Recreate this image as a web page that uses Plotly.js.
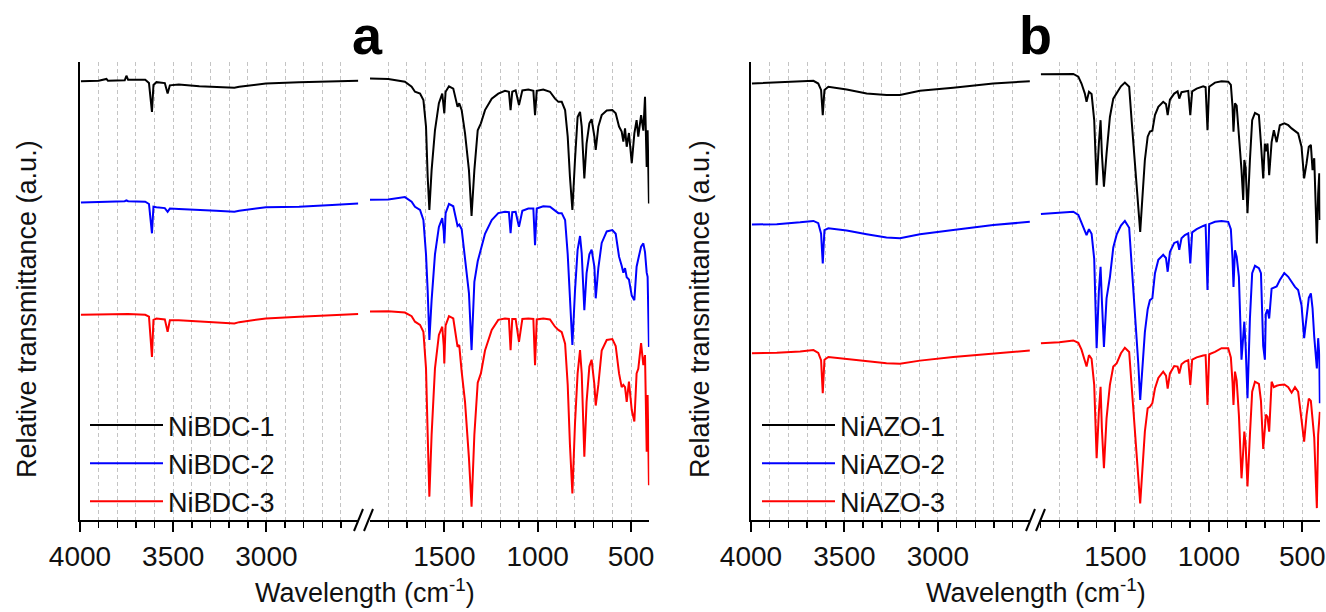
<!DOCTYPE html>
<html><head><meta charset="utf-8">
<script src="https://cdn.plot.ly/plotly-3.0.1.min.js"></script>
<style>html,body{margin:0;padding:0;background:#fff}#chart{width:1326px;height:612px}</style>
</head><body><div id="chart"></div>
<script>
// ---------- DATA (relative transmittance, a.u.; curves offset as in the figure) ----------
// Panel a (NiBDC), high-wavenumber segment 4000-2500 cm-1
const aHighWn = [3995,3900,3858,3850,3760,3751,3742,3650,3630,3614,3606,3590,3545,3530,3518,3470,3360,3270,3172,3146,3003,2825,2648,2508];
const aHighBDC1 = [95.8,95.9,96.3,95.9,96.0,97.0,96.1,96.1,95.4,89.1,95.0,95.6,95.4,93.1,94.9,95.1,94.7,94.6,94.4,94.6,95.3,95.6,95.8,95.9];
const aHighBDC2 = [69.3,69.4,69.5,69.4,69.6,69.8,69.6,69.5,69.0,62.6,68.4,68.3,68.1,67.3,68.0,67.9,67.6,67.5,67.3,67.5,68.3,68.4,68.8,69.1];
const aHighBDC3 = [44.8,44.9,45.0,44.9,45.0,45.0,45.0,44.8,44.4,35.6,43.7,44.0,43.8,41.1,43.6,43.6,43.3,43.2,42.9,43.2,44.0,44.4,44.8,45.0];

// Panel a (NiBDC), fingerprint segment 1900-400 cm-1
const aLowWn = [1898,1800,1711,1675,1657,1630,1612,1598,1589,1580,1568,1550,1529,1511,1503,1500,1497,1493,1475,1452,1429,1420,1407,1389,1368,1354,1339,1321,1304,1282,1246,1211,1175,1154,1145,1136,1118,1100,1082,1050,1023,1014,1005,970,934,907,889,871,853,839,827,814,800,786,773,764,750,738,723,711,696,689,675,657,630,600,582,564,550,541,532,523,511,496,482,470,461,446,434,425,416,411,404];
const aLowBDC1 = [96.4,96.3,95.7,94.6,93.5,93.1,91.7,85.9,74.9,67.7,76.4,85.1,91.0,93.1,90.0,88.8,91.0,93.5,94.7,94.2,90.2,91.0,89.5,84.4,76.4,66.4,76.4,85.1,86.6,89.5,92.0,93.1,93.7,93.5,89.5,93.5,93.8,90.6,93.8,94.0,93.7,88.4,93.7,94.0,93.5,92.0,91.3,91.3,89.5,83.7,74.9,67.7,78.6,88.0,89.1,85.9,74.6,82.2,86.6,87.5,83.7,80.8,85.9,88.4,89.4,89.5,88.8,85.9,84.8,82.6,85.5,81.5,84.5,77.9,84.4,87.3,83.7,88.4,85.0,92.4,77.1,85.1,69.1];
const aLowBDC2 = [69.9,70.0,70.5,69.5,68.4,67.7,65.5,58.0,50.0,39.3,48.0,58.0,64.0,65.9,63.0,60.4,63.0,67.0,69.0,68.5,64.2,64.5,63.5,56.8,49.5,37.1,52.0,56.5,59.0,62.5,65.5,67.0,67.3,67.2,62.6,67.2,67.3,64.0,67.5,68.0,68.0,60.0,68.0,68.5,68.4,67.5,67.0,67.0,65.5,58.0,48.0,38.2,50.0,59.0,62.0,58.2,45.8,53.9,58.0,59.0,55.3,48.4,55.0,60.5,63.0,63.3,62.5,57.5,55.5,54.0,55.0,53.0,52.5,49.0,48.0,55.3,57.0,59.7,60.4,58.5,54.0,53.1,37.8];
const aLowBDC3 = [45.5,45.6,45.3,44.5,43.3,42.6,41.1,33.1,18.6,5.1,18.6,33.1,40.4,42.2,38.0,34.2,38.0,42.5,44.5,44.0,37.8,38.2,32.4,25.8,13.5,2.9,18.6,30.0,32.0,37.0,41.5,43.7,44.0,43.9,37.1,43.9,43.9,38.9,43.9,44.0,43.9,33.8,43.8,44.0,43.8,42.2,41.5,41.0,38.5,29.5,16.4,5.8,21.0,32.0,37.1,32.0,13.8,25.8,33.5,35.0,29.5,25.0,29.5,37.0,39.3,39.5,38.0,32.0,29.0,29.5,29.0,25.8,30.2,24.0,21.5,32.0,33.0,38.6,33.8,36.0,14.9,27.3,7.6];

// Panel b (NiAZO), high-wavenumber segment 4000-2500 cm-1
const bHighWn = [3995,3862,3737,3666,3640,3625,3616,3607,3586,3488,3381,3275,3203,3096,2918,2704,2508];
const bHighAZO1 = [95.3,95.5,95.8,95.9,95.3,93.9,88.4,93.9,94.6,94.0,93.1,92.8,92.8,93.7,94.4,95.3,95.8];
const bHighAZO2 = [64.5,64.6,65.0,65.3,64.8,62.5,56.0,63.3,63.7,63.2,62.4,61.7,61.5,62.4,63.3,64.4,65.1];
const bHighAZO3 = [36.4,36.5,36.8,37.1,36.5,34.9,27.7,35.0,35.6,35.2,34.7,34.2,34.1,34.8,35.6,36.4,37.0];

// Panel b (NiAZO), fingerprint segment 1900-400 cm-1
const bLowWn = [1898,1800,1725,1698,1681,1663,1654,1641,1627,1613,1600,1588,1579,1572,1561,1547,1529,1511,1493,1470,1449,1426,1413,1404,1390,1377,1367,1356,1342,1327,1315,1302,1288,1270,1244,1229,1220,1208,1185,1167,1158,1146,1128,1110,1099,1089,1065,1030,1017,1007,998,967,932,896,882,873,868,860,851,839,825,816,810,803,793,780,768,753,732,721,709,700,695,686,677,664,652,637,620,596,575,557,539,522,504,490,477,465,454,445,436,427,422,415,409,406];
const bLowAZO1 = [97.3,97.4,97.4,96.8,95.3,93.1,91.3,93.5,93.0,87.3,73.1,82.2,87.3,80.0,72.8,80.0,88.0,92.0,93.1,94.7,95.5,94.6,87.3,82.6,74.9,67.7,62.9,69.9,78.6,83.7,84.8,85.0,88.4,90.2,91.3,90.8,88.4,91.8,93.1,93.6,92.0,93.4,93.5,93.7,88.4,93.6,94.2,94.7,94.5,85.1,94.6,95.5,95.8,95.7,95.0,90.2,84.8,91.0,90.5,84.4,76.4,69.9,78.6,77.0,67.0,78.6,87.3,88.9,88.4,82.2,74.6,82.2,80.5,82.2,75.3,82.5,85.1,82.5,86.2,86.6,86.2,85.5,85.0,84.4,81.5,74.6,77.9,81.5,81.9,76.4,79.0,69.1,60.4,71.3,75.7,65.5];
const bLowAZO2 = [66.8,67.0,67.3,66.6,64.8,62.9,62.2,63.5,62.5,57.0,37.5,50.0,55.3,48.0,37.8,48.4,53.0,59.5,62.3,64.3,65.3,63.8,56.0,50.0,44.0,34.0,26.2,33.0,41.0,46.0,48.0,48.4,53.9,56.8,57.9,57.2,54.2,58.5,60.5,60.8,59.0,61.5,62.2,62.6,56.0,62.8,63.5,64.2,64.4,50.2,64.6,65.1,65.3,65.1,63.5,57.0,50.9,58.9,57.5,53.1,35.0,40.0,43.3,38.0,26.6,44.0,53.9,55.5,55.0,53.9,38.0,35.0,45.0,46.0,44.0,50.5,50.8,51.0,52.4,53.9,53.1,52.0,50.9,50.2,46.9,39.7,44.0,48.5,49.5,46.2,40.0,34.5,33.1,39.7,36.0,25.5];
const bLowAZO3 = [38.6,38.8,39.2,38.7,37.2,34.9,33.5,36.0,35.2,29.5,13.5,23.6,29.1,20.0,11.3,22.2,29.5,33.5,34.2,36.4,37.6,36.7,29.5,23.6,16.4,9.1,3.6,10.5,19.3,24.4,24.7,25.5,28.7,31.0,32.4,31.5,28.7,32.0,33.6,33.5,32.0,34.0,34.6,34.9,29.5,35.0,35.5,35.9,36.0,25.1,36.2,36.7,37.5,37.5,35.5,30.0,25.1,32.4,30.5,22.9,9.1,15.0,19.3,16.5,7.3,18.6,28.0,30.2,29.7,26.0,15.5,20.0,23.0,22.5,19.3,30.2,29.0,29.3,29.5,29.6,29.0,27.8,29.0,28.0,22.0,17.1,22.9,26.5,26.0,22.5,18.0,8.0,2.6,18.6,22.0,23.6];

const namesA = ['NiBDC-1','NiBDC-2','NiBDC-3'];
const namesB = ['NiAZO-1','NiAZO-2','NiAZO-3'];
const xTickVals = [4000,3500,3000,1500,1000,500];

// ---------- sanity check ----------
[[aHighWn,[aHighBDC1,aHighBDC2,aHighBDC3]],[aLowWn,[aLowBDC1,aLowBDC2,aLowBDC3]],
 [bHighWn,[bHighAZO1,bHighAZO2,bHighAZO3]],[bLowWn,[bLowAZO1,bLowAZO2,bLowAZO3]]].forEach(([x,ys],i)=>{
  ys.forEach((y,j)=>{ if(y.length!==x.length) throw new Error('length mismatch set '+i+' series '+j+': '+y.length+' vs '+x.length); });
});

// ---------- STYLE ----------
const W = 1326, H = 612;
const fx = p => p / W, fy = p => (H - p) / H;
const FONT = 'Liberation Sans, Arial, Helvetica, sans-serif';
const COLORS = ['#000000', '#0000ff', '#ff0000'];
const GRID = '#c4c4c4';
const TXT = '#111';

function tr(x, y, name, color, xa, ya, legend, show) {
  return {type:'scatter', mode:'lines', x:x, y:y, name:name, xaxis:xa, yaxis:ya,
          legend:legend, showlegend:show, hoverinfo:'skip',
          line:{color:color, width:2}};
}

const traces = [];
const aHigh = [aHighBDC1, aHighBDC2, aHighBDC3], aLow = [aLowBDC1, aLowBDC2, aLowBDC3];
const bHigh = [bHighAZO1, bHighAZO2, bHighAZO3], bLow = [bLowAZO1, bLowAZO2, bLowAZO3];
for (let i = 0; i < 3; i++) {
  traces.push(tr(aHighWn, aHigh[i], namesA[i], COLORS[i], 'x', 'y', 'legend', false));
  traces.push(tr(aLowWn, aLow[i], namesA[i], COLORS[i], 'x2', 'y', 'legend', true));
  traces.push(tr(bHighWn, bHigh[i], namesB[i], COLORS[i], 'x3', 'y2', 'legend2', false));
  traces.push(tr(bLowWn, bLow[i], namesB[i], COLORS[i], 'x4', 'y2', 'legend2', true));
}
traces.forEach((t) => { t.legendrank = namesA.concat(namesB).indexOf(t.name) + 1; });

function xax(d0, d1, range, anchor) {
  return {domain:[fx(d0), fx(d1)], range:range, autorange:false, anchor:anchor,
    tickmode:'array', tickvals:xTickVals, ticks:'outside', ticklen:10, tickwidth:2, tickcolor:'#000',
    showline:true, linewidth:2, linecolor:'#000', zeroline:false,
    showgrid:true, gridcolor:GRID, griddash:'4px,3px', gridwidth:1,
    tickfont:{family:FONT, size:28, color:TXT},
    minor:{tick0:0, dtick:100, ticks:'outside', ticklen:6, tickwidth:1.5, tickcolor:'#000',
           showgrid:true, gridcolor:GRID, griddash:'4px,3px', gridwidth:1},
    fixedrange:true};
}
function yax(anchor) {
  return {domain:[fy(520), fy(62)], range:[0, 100], autorange:false, anchor:anchor,
    showline:true, linewidth:2, linecolor:'#000', ticks:'', showticklabels:false,
    showgrid:false, zeroline:false, fixedrange:true};
}

const legendBase = {xanchor:'left', yanchor:'top', y:fy(401), bgcolor:'rgba(0,0,0,0)',
  borderwidth:0, itemwidth:73, tracegroupgap:0, traceorder:'normal',
  font:{family:FONT, size:27, color:TXT}};

const breakLine = (x0, x1) => ({type:'line', xref:'paper', yref:'paper',
  x0:fx(x0), y0:fy(531), x1:fx(x1), y1:fy(509), line:{color:'#000', width:2}});

function note(text, x, y, size, extra) {
  return Object.assign({text:text, xref:'paper', yref:'paper', x:fx(x), y:fy(y),
    xanchor:'center', yanchor:'middle', showarrow:false,
    font:{family:FONT, size:size, color:TXT}}, extra || {});
}

const layout = {
  width:W, height:H, margin:{l:0, r:0, t:0, b:0}, paper_bgcolor:'#fff', plot_bgcolor:'rgba(0,0,0,0)',
  font:{family:FONT, color:TXT},
  xaxis:  xax(80, 358.7, [4000, 2505], 'y'),
  xaxis2: xax(370, 649.3, [1898, 402], 'y'),
  xaxis3: xax(751, 1030, [4000, 2507], 'y2'),
  xaxis4: xax(1040, 1320.4, [1903, 403], 'y2'),
  yaxis:  yax('x'),
  yaxis2: yax('x3'),
  legend:  Object.assign({}, legendBase, {x:fx(85)}),
  legend2: Object.assign({}, legendBase, {x:fx(757)}),
  shapes:[breakLine(354, 363), breakLine(364, 373), breakLine(1026, 1035), breakLine(1036, 1045)],
  annotations:[
    note('<b>a</b>', 367, 35, 54, {font:{family:FONT, size:54, color:'#000'}}),
    note('<b>b</b>', 1035, 35, 54, {font:{family:FONT, size:54, color:'#000'}}),
    note('Wavelength (cm<sup>-1</sup>)', 365, 591, 27),
    note('Wavelength (cm<sup>-1</sup>)', 1036, 591, 27),
    note('Relative transmittance (a.u.)', 27, 309, 27, {textangle:-90}),
    note('Relative transmittance (a.u.)', 700, 309, 27, {textangle:-90})
  ]
};

Plotly.newPlot('chart', traces, layout, {staticPlot:true, displayModeBar:false});
</script></body></html>
